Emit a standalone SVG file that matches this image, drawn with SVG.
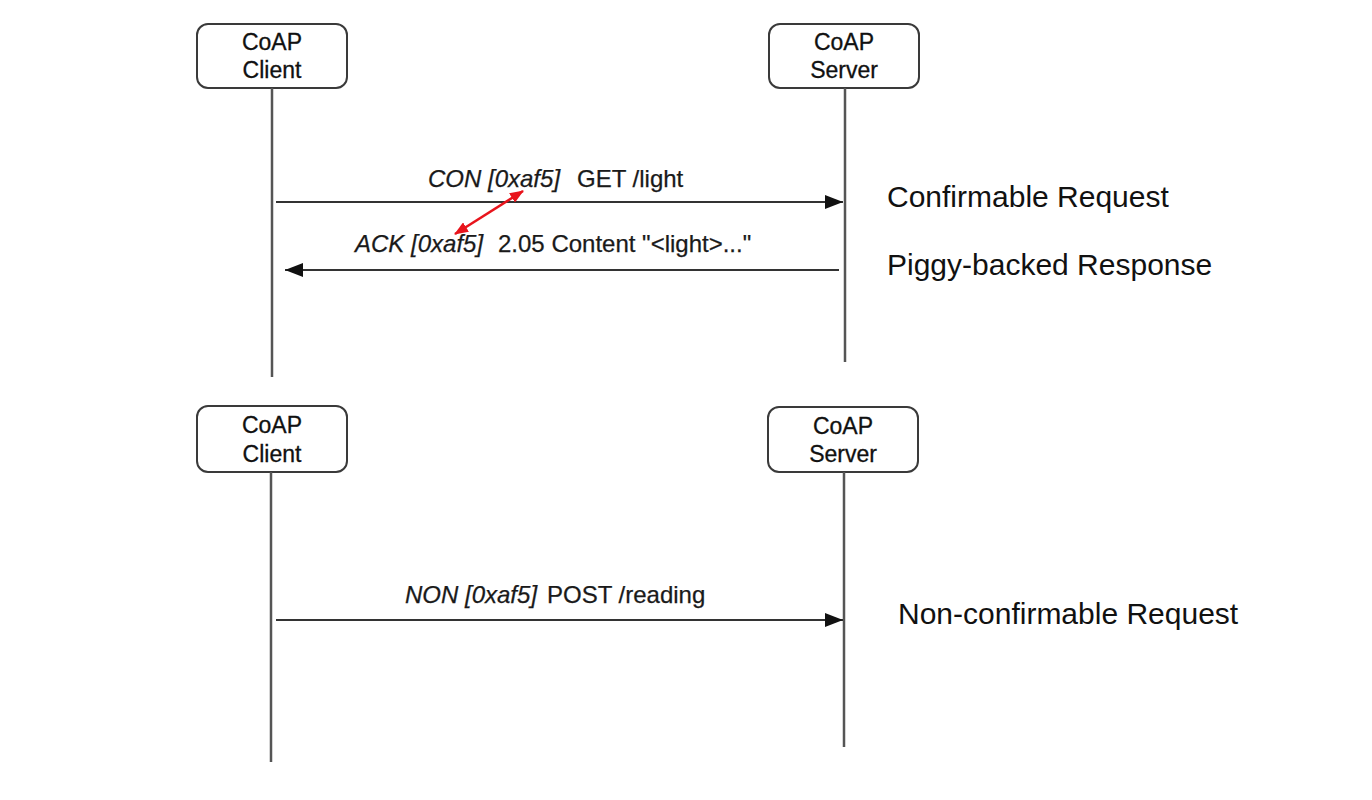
<svg xmlns="http://www.w3.org/2000/svg" width="1372" height="800" viewBox="0 0 1372 800">
<style>
.box{fill:#fff;stroke:#3a3a3a;stroke-width:2}
.life{stroke:#555;stroke-width:2.5;fill:none}
.msg{stroke:#333;stroke-width:2;fill:none}
.nt{font-family:"Liberation Sans",Arial,sans-serif;font-size:23px;fill:#111;text-anchor:middle;stroke:#111;stroke-width:0.3}
.lbl{font-family:"Liberation Sans",Arial,sans-serif;font-size:24px;fill:#1a1a1a;stroke:#1a1a1a;stroke-width:0.25}
.it{font-style:italic}
.side{font-family:"Liberation Sans",Arial,sans-serif;font-size:30px;fill:#111}
</style>
<defs>
<marker id="ah" markerWidth="18" markerHeight="14" refX="18" refY="7" orient="auto" markerUnits="userSpaceOnUse">
<path d="M0,0 L18,7 L0,14 Z" fill="#111"/>
</marker>
<marker id="rh" markerWidth="14" markerHeight="11" refX="13" refY="5.5" orient="auto-start-reverse" markerUnits="userSpaceOnUse">
<path d="M0,0 L14,5.5 L0,11 Z" fill="#e8141c"/>
</marker>
</defs>
<rect width="1372" height="800" fill="#fff"/>
<g id="client1">
<rect class="box" x="197" y="24" width="150" height="64" rx="11"/>
<text class="nt" x="272" y="50">CoAP</text>
<text class="nt" x="272" y="78">Client</text>
</g>
<g id="server1">
<rect class="box" x="769" y="24" width="150" height="64" rx="11"/>
<text class="nt" x="844" y="50">CoAP</text>
<text class="nt" x="844" y="78">Server</text>
</g>
<g id="client2">
<rect class="box" x="197" y="406" width="150" height="66" rx="11"/>
<text class="nt" x="272" y="433">CoAP</text>
<text class="nt" x="272" y="462">Client</text>
</g>
<g id="server2">
<rect class="box" x="768" y="407" width="150" height="65" rx="11"/>
<text class="nt" x="843" y="434">CoAP</text>
<text class="nt" x="843" y="462">Server</text>
</g>
<g id="connectors">
<line class="life" x1="272" y1="88" x2="272" y2="377"/>
<line class="life" x1="845" y1="88" x2="845" y2="362"/>
<line class="life" x1="271" y1="472" x2="271" y2="762"/>
<line class="life" x1="844" y1="472" x2="844" y2="747"/>
<line class="msg" x1="276" y1="202" x2="843" y2="202" marker-end="url(#ah)"/>
<line class="msg" x1="839" y1="270" x2="285" y2="270" marker-end="url(#ah)"/>
<line class="msg" x1="276" y1="620" x2="843" y2="620" marker-end="url(#ah)"/>
<line x1="455" y1="234" x2="523" y2="191" stroke="#e8141c" stroke-width="2.5" marker-start="url(#rh)" marker-end="url(#rh)"/>
</g>
<g id="labels">
<text class="lbl" y="187"><tspan class="it" x="428">CON [0xaf5]</tspan><tspan x="577">GET /light</tspan></text>
<text class="lbl" y="252"><tspan class="it" x="355">ACK [0xaf5]</tspan><tspan x="498">2.05 Content "&lt;light&gt;..."</tspan></text>
<text class="lbl" y="603"><tspan class="it" x="405">NON [0xaf5]</tspan><tspan x="547">POST /reading</tspan></text>
<text class="side" x="887" y="207">Confirmable Request</text>
<text class="side" x="887" y="275">Piggy-backed Response</text>
<text class="side" x="898" y="624">Non-confirmable Request</text>
</g>
</svg>
